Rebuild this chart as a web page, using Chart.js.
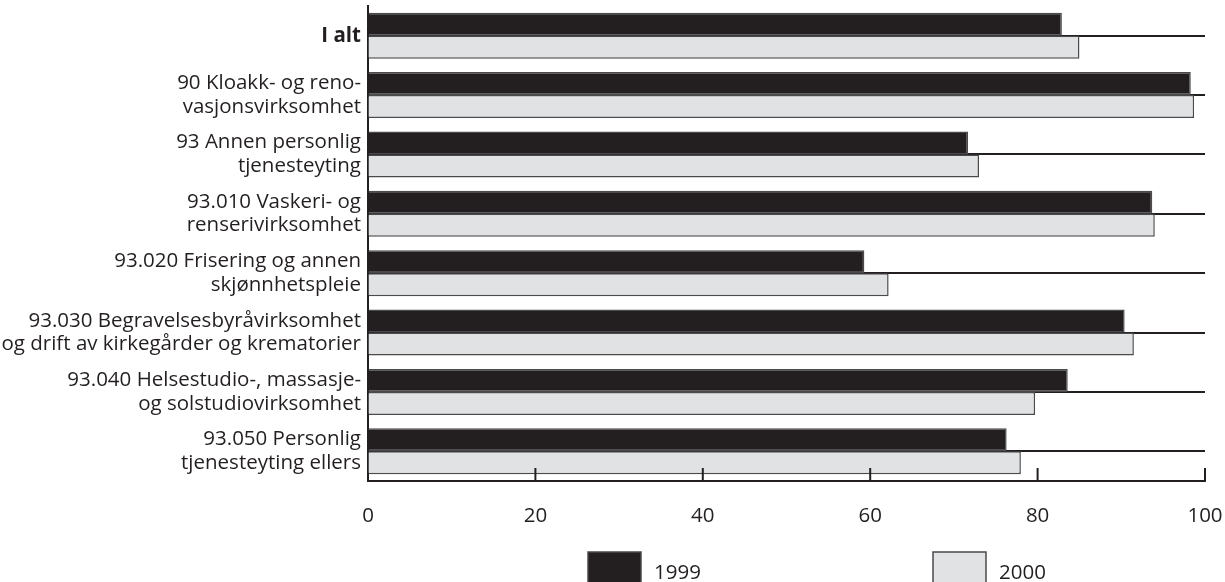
<!DOCTYPE html>
<html>
<head>
<meta charset="utf-8">
<script src="https://cdn.jsdelivr.net/npm/chart.js@4.4.1/dist/chart.umd.min.js"></script>
<style>
  html, body { margin: 0; padding: 0; background: #fff; overflow: hidden; }
  canvas { display: block; }
</style>
</head>
<body>
<canvas id="chart" width="1225" height="582"></canvas>
<script>
// values
const categories = [
  ["I alt"],
  ["90 Kloakk- og reno-", "vasjonsvirksomhet"],
  ["93 Annen personlig", "tjenesteyting"],
  ["93.010 Vaskeri- og", "renserivirksomhet"],
  ["93.020 Frisering og annen", "skjønnhetspleie"],
  ["93.030 Begravelsesbyråvirksomhet", "og drift av kirkegårder og krematorier"],
  ["93.040 Helsestudio-, massasje-", "og solstudiovirksomhet"],
  ["93.050 Personlig", "tjenesteyting ellers"]
];
const values1999 = [82.9, 98.3, 71.7, 93.7, 59.3, 90.4, 83.6, 76.3];
const values2000 = [85.0, 98.7, 73.0, 94.0, 62.2, 91.5, 79.7, 78.0];
const seriesNames = ["1999", "2000"];
const xTicks = [0, 20, 40, 60, 80, 100];

const ink = "#231f20";
const fontSize = 20.5;

// tick marks that point up into the plot
const innerTicks = {
  id: "innerTicks",
  afterDraw(chart) {
    const { ctx, chartArea } = chart;
    const x = chart.scales.x;
    ctx.save();
    ctx.strokeStyle = ink;
    ctx.lineWidth = 2;
    x.ticks.forEach((t) => {
      if (t.value === 0) return;
      const px = x.getPixelForValue(t.value);
      ctx.beginPath();
      ctx.moveTo(px, chartArea.bottom);
      ctx.lineTo(px, chartArea.bottom - 13);
      ctx.stroke();
    });
    ctx.restore();
  }
};

// big square legend boxes spread under the axis
const boxLegend = {
  id: "boxLegend",
  afterDraw(chart) {
    const { ctx } = chart;
    const spots = [588, 933];
    ctx.save();
    chart.data.datasets.forEach((ds, i) => {
      const x0 = spots[i];
      const y0 = 552;
      ctx.fillStyle = ds.backgroundColor;
      ctx.fillRect(x0, y0, 53, 50);
      ctx.strokeStyle = ds.borderColor;
      ctx.lineWidth = 1.5;
      ctx.strokeRect(x0, y0, 53, 50);
      ctx.fillStyle = ink;
      ctx.font = fontSize + 'px "Open Sans", sans-serif';
      ctx.textBaseline = "middle";
      ctx.fillText(ds.label, x0 + 66, 573);
    });
    ctx.restore();
  }
};

function draw() {
  Chart.defaults.font.family = '"Open Sans", sans-serif';
  Chart.defaults.font.size = fontSize;
  Chart.defaults.color = ink;

  new Chart(document.getElementById("chart").getContext("2d"), {
    type: "bar",
    data: {
      labels: categories,
      datasets: [
        {
          label: seriesNames[0],
          data: values1999,
          backgroundColor: ink,
          borderColor: "#4a4a4c",
          borderWidth: 1.5
        },
        {
          label: seriesNames[1],
          data: values2000,
          backgroundColor: "#e1e2e4",
          borderColor: "#4a4a4c",
          borderWidth: 1.5
        }
      ]
    },
    options: {
      indexAxis: "y",
      responsive: false,
      animation: false,
      devicePixelRatio: 1,
      categoryPercentage: 0.775,
      barPercentage: 1.0,
      layout: { padding: { top: 6, right: 20, bottom: 41, left: 0 } },
      plugins: {
        legend: { display: false },
        tooltip: { enabled: false }
      },
      scales: {
        x: {
          min: 0,
          max: 100,
          afterBuildTicks: (scale) => {
            scale.ticks = xTicks.map((v) => ({ value: v }));
          },
          afterFit: (scale) => {
            scale.height = 60;
            scale.paddingLeft = 0;
            scale.paddingRight = 0;
          },
          grid: { drawOnChartArea: false, drawTicks: false },
          border: { color: ink, width: 2 },
          ticks: { padding: 23, font: { size: fontSize } }
        },
        y: {
          afterFit: (scale) => {
            scale.width = 368;
            scale.paddingTop = 0;
            scale.paddingBottom = 0;
          },
          grid: { offset: false, color: ink, lineWidth: 2, drawTicks: false },
          border: { color: ink, width: 2 },
          ticks: {
            padding: 7,
            font: (c) => ({
              size: fontSize,
              lineHeight: 1.15,
              weight: c.index === 0 ? "bold" : "normal"
            })
          }
        }
      }
    },
    plugins: [innerTicks, boxLegend]
  });
}

document.fonts.load(fontSize + 'px "Open Sans"').then(draw, draw);
</script>
</body>
</html>
